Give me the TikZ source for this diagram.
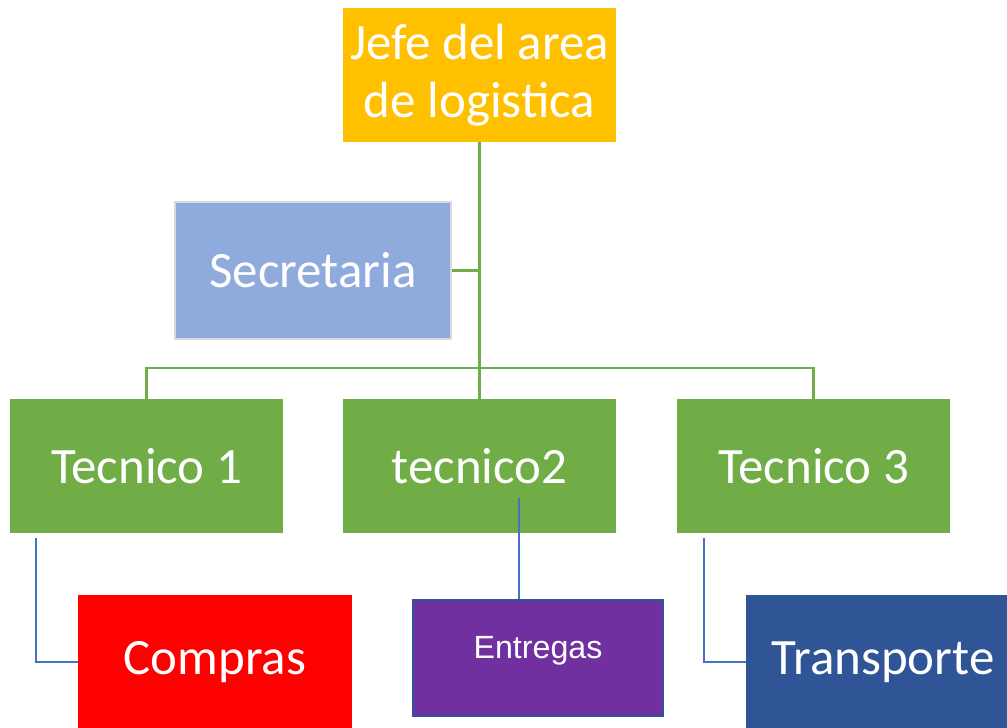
\documentclass[tikz,border=0pt]{standalone}
\usepackage{fontspec}
\setmainfont{Carlito}
\newfontfamily\arialfont{Liberation Sans}
\usepackage{tikz}
\usetikzlibrary{calc,positioning}
\usepackage{xcolor}

\definecolor{jefeorange}{HTML}{FFC000}
\definecolor{tecgreen}{HTML}{70AD47}
\definecolor{secblue}{HTML}{8FAADC}
\definecolor{entpurple}{HTML}{7030A0}
\definecolor{navyblue}{HTML}{2F5597}
\definecolor{linkblue}{HTML}{4472C4}
\definecolor{lightgrey}{HTML}{D9D9D9}

\tikzset{
	unit/.style={rectangle, minimum width=5.46cm, minimum height=2.68cm, inner sep=0pt,
		text=white, font=\fontsize{29}{33}\selectfont, align=center},
	greenlink/.style={draw=tecgreen, line width=1.3pt},
	bluelink/.style={draw=linkblue, line width=1.2pt}
}

\begin{document}
\begin{tikzpicture}[x=0.02cm, y=-0.02cm]

			\useasboundingbox (0, 0) rectangle (1007, 727);

			\node[unit, fill=jefeorange] (jefe) at (479.5, 75) {Jefe del area\\de logistica};
			\node[unit, fill=secblue, draw=lightgrey, line width=0.9pt, minimum width=5.52cm, minimum height=2.74cm] (secre) at (313, 270.5) {Secretaria};

			\node[unit, fill=tecgreen] (tec1) at (146.5, 466) {Tecnico 1};
			\node[unit, fill=tecgreen] (tec2) at (479.5, 466) {tecnico2};
			\node[unit, fill=tecgreen] (tec3) at (813.5, 466) {Tecnico 3};

			\node[unit, fill=red, minimum width=5.48cm] (compras) at (215, 662) {Compras};
			\node[unit, fill=entpurple, draw=navyblue, line width=1.1pt, minimum width=5cm, minimum height=2.32cm,
				font=\arialfont\fontsize{18.3}{21}\selectfont, text height=0.72em, text depth=0.72em] (entregas) at (538, 658) {Entregas};
			\node[unit, fill=navyblue, minimum width=5.48cm] (transp) at (883, 662) {Transporte};

			\coordinate (bar) at (479.5, 368);
			\coordinate (foot1) at (36, 538);
			\coordinate (foot2) at (519, 498);
			\coordinate (foot3) at (704, 538);

			\draw[greenlink] (jefe.south) -- (tec2.north);
			\draw[greenlink] (secre.east) -- (secre.east -| jefe.south);
			\draw[greenlink] (tec1.north) |- (bar) -| (tec3.north);

			\draw[bluelink] (foot1) |- (compras.west);
			\draw[bluelink] (foot2) -- (foot2 |- entregas.north);
			\draw[bluelink] (foot3) |- (transp.west);

		\end{tikzpicture}
\end{document}
